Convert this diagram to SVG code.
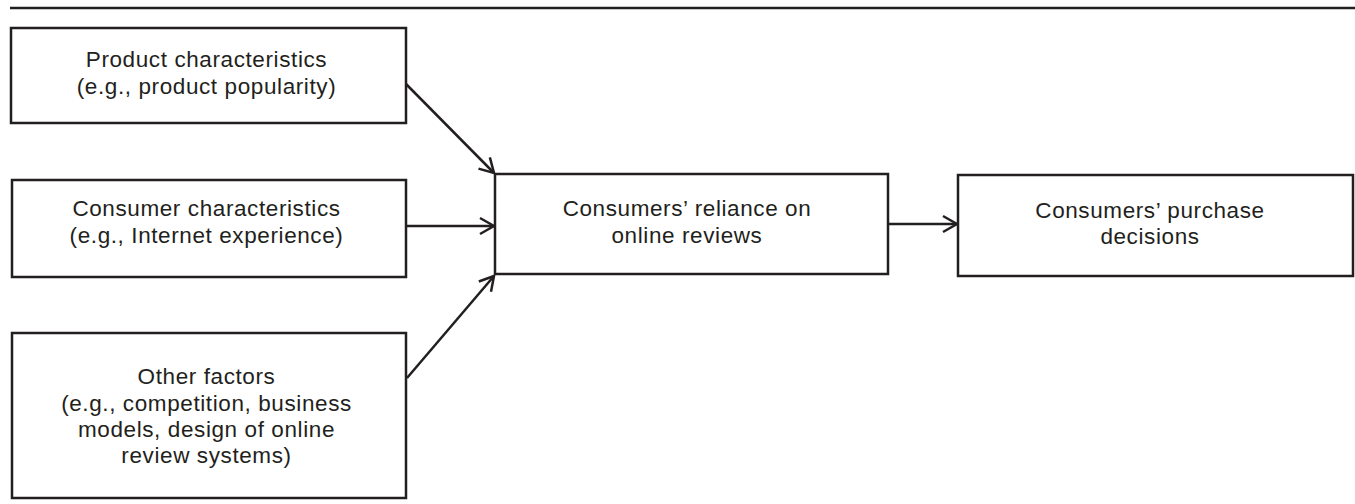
<svg xmlns="http://www.w3.org/2000/svg" width="1355" height="504" viewBox="0 0 1355 504">
<style>
.box{fill:#fff;stroke:#231f20;stroke-width:2.5}
.t{font-family:"Liberation Sans",Arial,sans-serif;font-size:22.5px;letter-spacing:0.6px;fill:#231f20;text-anchor:middle}
.c{stroke:#231f20;stroke-width:2.5;fill:none}
</style>
<defs>
<marker id="arr" viewBox="0 0 20 20" refX="18" refY="10" markerWidth="20" markerHeight="20" markerUnits="userSpaceOnUse" orient="auto">
<path d="M4,2 L18,10 L4,18" fill="none" stroke="#231f20" stroke-width="2.5"/>
</marker>
</defs>
<rect width="1355" height="504" fill="#fff"/>
<line x1="10" y1="8" x2="1355" y2="8" stroke="#231f20" stroke-width="2.5"/>
<g id="connectors">
<line class="c" x1="406" y1="84" x2="494" y2="173" marker-end="url(#arr)"/>
<line class="c" x1="406" y1="226" x2="494" y2="226" marker-end="url(#arr)"/>
<line class="c" x1="407" y1="378" x2="494" y2="276" marker-end="url(#arr)"/>
<line class="c" x1="888" y1="224" x2="957" y2="224" marker-end="url(#arr)"/>
</g>
<g id="product">
<rect class="box" x="11" y="28" width="395" height="95"/>
<text class="t" x="206.5" y="67">Product characteristics</text>
<text class="t" x="206.5" y="94">(e.g., product popularity)</text>
</g>
<g id="consumer">
<rect class="box" x="12" y="180" width="394" height="97"/>
<text class="t" x="206.5" y="216">Consumer characteristics</text>
<text class="t" x="206.5" y="243">(e.g., Internet experience)</text>
</g>
<g id="other">
<rect class="box" x="12" y="333" width="394" height="165"/>
<text class="t" x="206.5" y="384">Other factors</text>
<text class="t" x="206.5" y="411">(e.g., competition, business</text>
<text class="t" x="206.5" y="437">models, design of online</text>
<text class="t" x="206.5" y="463">review systems)</text>
</g>
<g id="reliance">
<rect class="box" x="495" y="174" width="393" height="100"/>
<text class="t" x="687" y="216">Consumers’ reliance on</text>
<text class="t" x="687" y="243">online reviews</text>
</g>
<g id="purchase">
<rect class="box" x="958" y="175" width="395" height="101"/>
<text class="t" x="1150" y="218">Consumers’ purchase</text>
<text class="t" x="1150" y="244">decisions</text>
</g>
</svg>
